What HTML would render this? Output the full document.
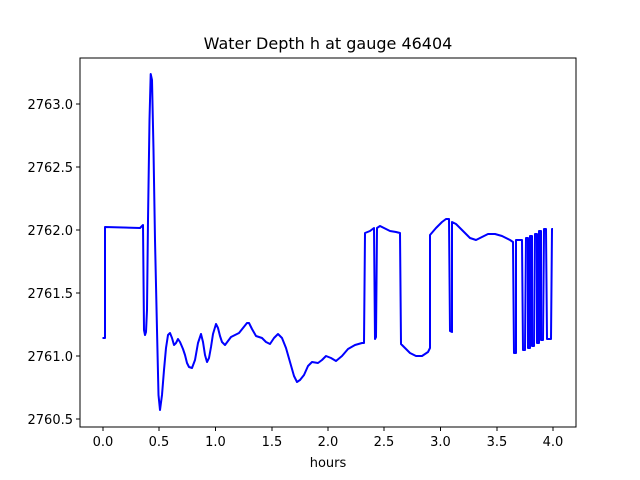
<!DOCTYPE html>
<html><head><style>
body{margin:0;background:#fff;}
svg{display:block;font-family:"DejaVu Sans","Liberation Sans",sans-serif;}
</style></head><body>
<svg width="640" height="480" xmlns="http://www.w3.org/2000/svg">
<rect width="640" height="480" fill="#fff"/>
<text x="328" y="49" font-size="16" text-anchor="middle" fill="#000">Water Depth h at gauge 46404</text>
<polyline fill="none" stroke="#0000ff" stroke-width="2" stroke-linejoin="round" points="
102.5,338 105,338 105,227 140,228 142,226 143,225 144,330 145,335 146,332 147,310 148,220 149.5,120 150.7,74 152,80 153.5,150 155,240 157,330 158.5,395 160,410 162,395 164,370 166,348 168,335 170,333 172,338 174,345 176,343 178,339 180,342 183,349 185,355 187,363 189,367 192,368 195,360 198,343 201,334 203,342 205,355 207,362 209,358 211,347 213,334 216,324 218,328 220,336 222,342 225,345 228,341 231,337 235,335 239,333 243,328 247,323 249,323 252,329 256,336 262,338 266,342 270,344 274,338 278,334 282,338 286,348 290,362 294,376 297,382 300,380 304,375 308,366 312,362 318,363 322,360 326,356 331,358 336,361 342,356 348,349 355,345 362,343 364,343 365,233 370,231 374,228 375,339 376,337 377,228 380,226 384,228 390,231 396,232 400,233 401,344 405,348 410,353 416,356 422,356 428,352 430,348 430,235 436,228 442,222 446,219 449,219 450,331 452,332 452,222 456,224 462,230 470,238 476,240 482,237 488,234 495,234 502,236 510,240 513,242 514,353 516,353 516,240 522,240 523,350 525,350 526,238 528,238 528,348 530,348 530,236 532,236 532,346 534,346 535,234 537,234 537,343 539,343 539,231 541,231 541,340 543,340 544,229 546,229 547,339 551,339 552,229 553,229"/>
<rect x="80" y="58" width="496" height="369" fill="none" stroke="#000" stroke-width="1"/>
<g stroke="#000" stroke-width="1">
<line x1="103" y1="427" x2="103" y2="431"/><line x1="159" y1="427" x2="159" y2="431"/><line x1="215.5" y1="427" x2="215.5" y2="431"/><line x1="272" y1="427" x2="272" y2="431"/><line x1="328" y1="427" x2="328" y2="431"/><line x1="384" y1="427" x2="384" y2="431"/><line x1="440.5" y1="427" x2="440.5" y2="431"/><line x1="497" y1="427" x2="497" y2="431"/><line x1="553" y1="427" x2="553" y2="431"/>
<line x1="76" y1="104" x2="80" y2="104"/><line x1="76" y1="167" x2="80" y2="167"/><line x1="76" y1="230" x2="80" y2="230"/><line x1="76" y1="293" x2="80" y2="293"/><line x1="76" y1="356" x2="80" y2="356"/><line x1="76" y1="419" x2="80" y2="419"/>
</g>
<g font-size="13" fill="#000" text-anchor="middle">
<text x="103" y="446">0.0</text><text x="159" y="446">0.5</text><text x="215.5" y="446">1.0</text><text x="272" y="446">1.5</text><text x="328" y="446">2.0</text><text x="384" y="446">2.5</text><text x="440.5" y="446">3.0</text><text x="497" y="446">3.5</text><text x="553" y="446">4.0</text>
<text x="328" y="467">hours</text>
</g>
<g font-size="13" fill="#000" text-anchor="end">
<text x="73" y="109">2763.0</text><text x="73" y="172">2762.5</text><text x="73" y="235">2762.0</text><text x="73" y="298">2761.5</text><text x="73" y="361">2761.0</text><text x="73" y="424">2760.5</text>
</g>
</svg>
</body></html>
